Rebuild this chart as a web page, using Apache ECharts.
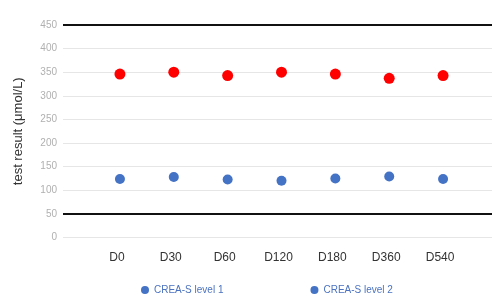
<!DOCTYPE html>
<html>
<head>
<meta charset="utf-8">
<script src="https://cdn.jsdelivr.net/npm/echarts@6/dist/echarts.min.js"></script>
<style>
  html, body { margin: 0; padding: 0; background: #fff; }
  #chart { width: 492px; height: 301px; }
</style>
</head>
<body>
<div id="chart"></div>
<script>
const days = ['D0', 'D30', 'D60', 'D120', 'D180', 'D360', 'D540'];
const level1 = [124, 128, 123, 120, 125, 129, 124];
const level2 = [346, 350, 343, 350, 346, 337, 343];
const refLines = [450, 50];

const chart = echarts.init(document.getElementById('chart'), null, { renderer: 'canvas' });

const option = {
  animation: false,
  grid: [
    // wide grid for split lines and black reference lines
    { left: 63, right: 0, top: 25, bottom: 63.5 },
    // data grid
    { left: 93, right: 22, top: 25, bottom: 63.5 }
  ],
  legend: {
    bottom: 1,
    left: 136,
    itemGap: 87,
    itemWidth: 8,
    itemHeight: 8,
    icon: 'circle',
    textStyle: { color: '#4a72c0', fontSize: 10, fontFamily: 'Liberation Sans' },
    data: [
      { name: 'CREA-S level 1' },
      { name: 'CREA-S level 2', itemStyle: { color: '#4472c4' } }
    ]
  },
  xAxis: [
    { gridIndex: 0, type: 'category', data: days, show: false },
    {
      gridIndex: 1, type: 'category', data: days,
      axisLine: { show: false }, axisTick: { show: false },
      axisLabel: {
        color: '#333', fontSize: 12, margin: 14, padding: [0, 6, 0, 0],
        fontFamily: 'Liberation Sans'
      }
    }
  ],
  yAxis: [
    {
      gridIndex: 0, type: 'value', min: 0, max: 450, interval: 50,
      name: 'test result (μmol/L)', nameLocation: 'middle', nameGap: 38,
      nameTextStyle: { color: '#333', fontSize: 13, fontFamily: 'Liberation Sans' },
      axisLine: { show: false }, axisTick: { show: false },
      axisLabel: { color: '#b0b0b0', fontSize: 10, margin: 6, fontFamily: 'Liberation Sans' },
      splitLine: { lineStyle: { color: '#e6e6e6', width: 1 } }
    },
    {
      gridIndex: 1, type: 'value', min: 0, max: 450, interval: 50, show: false,
      splitLine: { show: false }
    }
  ],
  series: [
    {
      type: 'scatter', xAxisIndex: 0, yAxisIndex: 0, data: [],
      silent: true,
      markLine: {
        symbol: 'none', silent: true, label: { show: false },
        lineStyle: { color: '#111', width: 2.2, type: 'solid' },
        data: refLines.map(v => ({ yAxis: v }))
      }
    },
    {
      name: 'CREA-S level 1', type: 'scatter', xAxisIndex: 1, yAxisIndex: 1,
      symbolSize: 10, itemStyle: { color: '#4472c4', opacity: 1 },
      data: level1
    },
    {
      name: 'CREA-S level 2', type: 'scatter', xAxisIndex: 1, yAxisIndex: 1,
      symbolSize: 11, itemStyle: { color: '#ff0000', opacity: 1 },
      data: level2
    }
  ]
};

chart.setOption(option);
</script>
</body>
</html>
